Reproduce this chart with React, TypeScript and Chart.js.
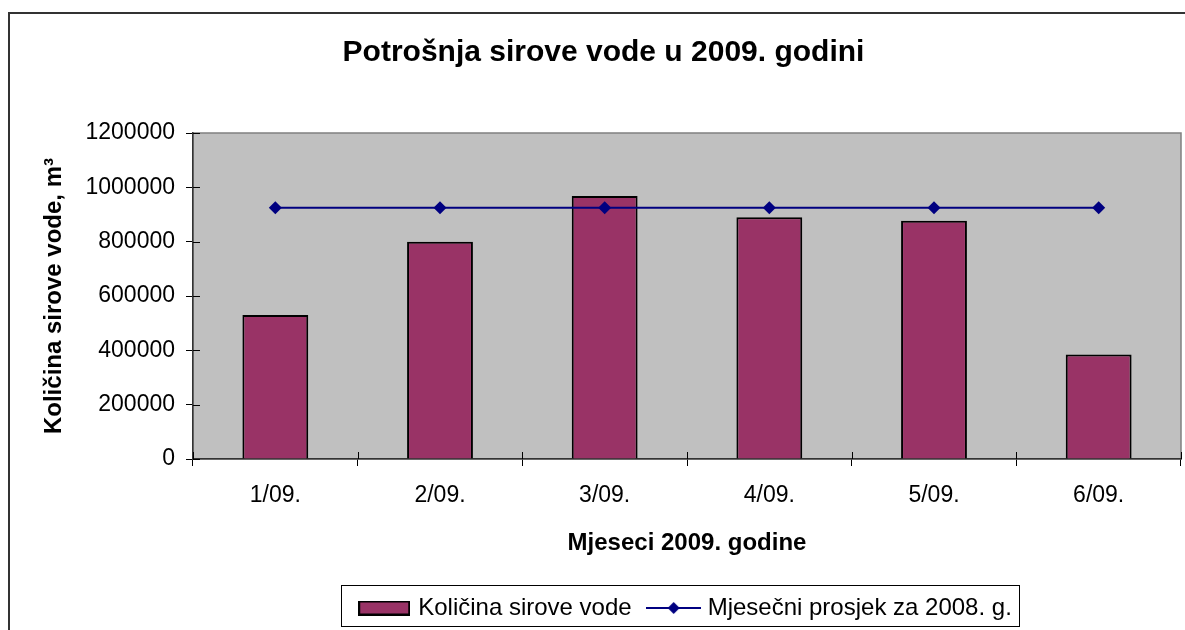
import React, { useEffect, useRef } from 'react';
import { Chart, registerables } from 'chart.js';

Chart.register(...registerables);

// ---- data ----
const categories = ['1/09.', '2/09.', '3/09.', '4/09.', '5/09.', '6/09.'];
const rawWater = [530000, 800000, 968000, 890000, 877000, 385000];
const avg2008 = [925000, 925000, 925000, 925000, 925000, 925000];
const yTicks = [0, 200000, 400000, 600000, 800000, 1000000, 1200000];
const seriesNames = ['Količina sirove vode', 'Mjesečni prosjek za 2008. g.'];
const titleText = 'Potrošnja sirove vode u 2009. godini';
const xTitle = 'Mjeseci 2009. godine';
const yTitle = 'Količina sirove vode, m³';

const FONT = '"Liberation Sans", Arial, sans-serif';
const W = 1207;
const H = 631;
const BAR_COLOR = '#993366';
const LINE_COLOR = '#000080';

function makeBarSwatch(): HTMLCanvasElement {
  const c = document.createElement('canvas');
  c.width = 52;
  c.height = 15;
  const g = c.getContext('2d')!;
  g.fillStyle = BAR_COLOR;
  g.fillRect(1, 1, 50, 13);
  g.strokeStyle = '#000';
  g.lineWidth = 2;
  g.strokeRect(1, 1, 50, 13);
  return c;
}

function makeLineSwatch(): HTMLCanvasElement {
  const c = document.createElement('canvas');
  c.width = 55;
  c.height = 14;
  const g = c.getContext('2d')!;
  g.strokeStyle = LINE_COLOR;
  g.lineWidth = 2;
  g.beginPath();
  g.moveTo(0, 7);
  g.lineTo(55, 7);
  g.stroke();
  g.fillStyle = LINE_COLOR;
  g.beginPath();
  g.moveTo(27.5 - 6, 7);
  g.lineTo(27.5, 1);
  g.lineTo(27.5 + 6, 7);
  g.lineTo(27.5, 13);
  g.closePath();
  g.fill();
  return c;
}

const decorPlugin = {
  id: 'decor',
  beforeDraw(chart: any) {
    const { ctx, chartArea } = chart;
    ctx.save();
    ctx.fillStyle = '#ffffff';
    ctx.fillRect(0, 0, chart.width, chart.height);
    // outer chart border
    ctx.strokeStyle = '#333333';
    ctx.lineWidth = 2;
    ctx.strokeRect(9, 13, chart.width + 20, chart.height + 20);
    // plot area
    ctx.fillStyle = '#C0C0C0';
    ctx.fillRect(chartArea.left, chartArea.top, chartArea.right - chartArea.left, chartArea.bottom - chartArea.top);
    ctx.strokeStyle = '#808080';
    ctx.lineWidth = 1.5;
    ctx.strokeRect(chartArea.left, chartArea.top, chartArea.right - chartArea.left, chartArea.bottom - chartArea.top);
    ctx.restore();
  },
  afterDraw(chart: any) {
    const { ctx, chartArea, scales } = chart;
    ctx.save();
    ctx.strokeStyle = '#000';
    ctx.lineWidth = 1;
    // inner halves of the crossing tick marks
    const ys = scales.y;
    for (let i = 0; i < ys.ticks.length; i++) {
      const y = Math.round(ys.getPixelForTick(i)) + 0.5;
      ctx.beginPath();
      ctx.moveTo(chartArea.left, y);
      ctx.lineTo(chartArea.left + 7, y);
      ctx.stroke();
    }
    const xs = scales.x;
    for (let i = 0; i <= categories.length; i++) {
      const x = Math.round(xs.getPixelForValue(i - 0.5)) + 0.5;
      ctx.beginPath();
      ctx.moveTo(x, chartArea.bottom);
      ctx.lineTo(x, chartArea.bottom - 7);
      ctx.stroke();
    }
    // legend frame
    const lg = chart.legend;
    if (lg && lg.legendHitBoxes && lg.legendHitBoxes.length) {
      const hb = lg.legendHitBoxes;
      let l = Infinity, r = -Infinity, t = Infinity, b = -Infinity;
      hb.forEach((h: any) => {
        l = Math.min(l, h.left);
        r = Math.max(r, h.left + h.width);
        t = Math.min(t, h.top);
        b = Math.max(b, h.top + h.height);
      });
      ctx.strokeStyle = '#000';
      ctx.lineWidth = 1;
      ctx.strokeRect(Math.round(l - 21) + 0.5, Math.round(t - 11) + 0.5, Math.round(r - l + 28), Math.round(b - t + 17));
    }
    ctx.restore();
  },
};

export default function App() {
  const ref = useRef<HTMLCanvasElement | null>(null);

  useEffect(() => {
    const canvas = ref.current;
    if (!canvas) return;
    const barSwatch = makeBarSwatch();
    const lineSwatch = makeLineSwatch();

    const chart = new Chart(canvas, {
      type: 'bar',
      data: {
        labels: categories,
        datasets: [
          {
            type: 'line',
            label: seriesNames[1],
            data: avg2008,
            borderColor: LINE_COLOR,
            backgroundColor: LINE_COLOR,
            borderWidth: 2,
            pointStyle: 'rectRot',
            pointRadius: 6.5,
            pointBackgroundColor: LINE_COLOR,
            pointBorderColor: LINE_COLOR,
            pointBorderWidth: 0,
            tension: 0,
            order: 0,
            yAxisID: 'y',
          } as any,
          {
            type: 'bar',
            label: seriesNames[0],
            data: rawWater,
            backgroundColor: BAR_COLOR,
            borderColor: '#000000',
            borderWidth: 2,
            barPercentage: 0.4,
            categoryPercentage: 1,
            order: 1,
            yAxisID: 'y',
          } as any,
        ],
      },
      options: {
        responsive: false,
        animation: false,
        devicePixelRatio: 1,
        layout: { padding: { left: 8, right: 8, top: 0, bottom: 1 } },
        plugins: {
          title: {
            display: true,
            text: titleText,
            color: '#000',
            font: { family: FONT, size: 30, weight: 'bold' },
            padding: { top: 35, bottom: 62 },
          },
          legend: {
            position: 'bottom',
            fullSize: false,
            labels: {
              usePointStyle: true,
              pointStyleWidth: 44,
              boxHeight: 16,
              padding: 20,
              color: '#000',
              font: { family: FONT, size: 24 },
              generateLabels: () => [
                {
                  text: seriesNames[0],
                  fillStyle: BAR_COLOR,
                  strokeStyle: '#000',
                  lineWidth: 0,
                  pointStyle: barSwatch,
                  hidden: false,
                  datasetIndex: 1,
                  fontColor: '#000',
                },
                {
                  text: seriesNames[1],
                  fillStyle: LINE_COLOR,
                  strokeStyle: LINE_COLOR,
                  lineWidth: 0,
                  pointStyle: lineSwatch,
                  hidden: false,
                  datasetIndex: 0,
                  fontColor: '#000',
                },
              ] as any,
            },
          },
          tooltip: { enabled: false },
        },
        scales: {
          x: {
            offset: true,
            grid: { offset: true, drawOnChartArea: false, drawTicks: true, tickLength: 7, color: '#000', lineWidth: 1 },
            border: { color: '#333333', width: 1.5 },
            ticks: { color: '#000', font: { family: FONT, size: 23 }, padding: 16, maxRotation: 0, autoSkip: false },
            title: {
              display: true,
              text: xTitle,
              color: '#000',
              font: { family: FONT, size: 24, weight: 'bold' },
              padding: { top: 0, bottom: 18 },
            },
            afterFit: (s: any) => {
              s.height = 117;
            },
          },
          y: {
            min: yTicks[0],
            max: yTicks[yTicks.length - 1],
            grid: { drawOnChartArea: false, drawTicks: true, tickLength: 7, color: '#000', lineWidth: 1 },
            border: { color: '#333333', width: 1.5 },
            ticks: {
              stepSize: yTicks[1] - yTicks[0],
              color: '#000',
              font: { family: FONT, size: 23 },
              padding: 11,
              callback: (v: any) => String(v),
            },
            title: {
              display: true,
              text: yTitle,
              color: '#000',
              font: { family: FONT, size: 24, weight: 'bold' },
              padding: { top: 32, bottom: 0 },
            },
            afterFit: (s: any) => {
              s.width = 185;
            },
          },
          yRight: {
            position: 'right',
            display: true,
            min: yTicks[0],
            max: yTicks[yTicks.length - 1],
            grid: { display: false, drawOnChartArea: false, drawTicks: false },
            border: { display: false },
            ticks: { display: false },
            afterFit: (s: any) => {
              s.width = 18;
            },
          },
        },
      } as any,
      plugins: [decorPlugin],
    });

    return () => {
      chart.destroy();
    };
  }, []);

  return (
    <div
      style={{
        position: 'fixed',
        left: 0,
        top: 0,
        width: 1185,
        height: 630,
        overflow: 'hidden',
        background: '#fff',
      }}
    >
      <canvas ref={ref} width={W} height={H} style={{ display: 'block', width: W, height: H }} />
    </div>
  );
}
